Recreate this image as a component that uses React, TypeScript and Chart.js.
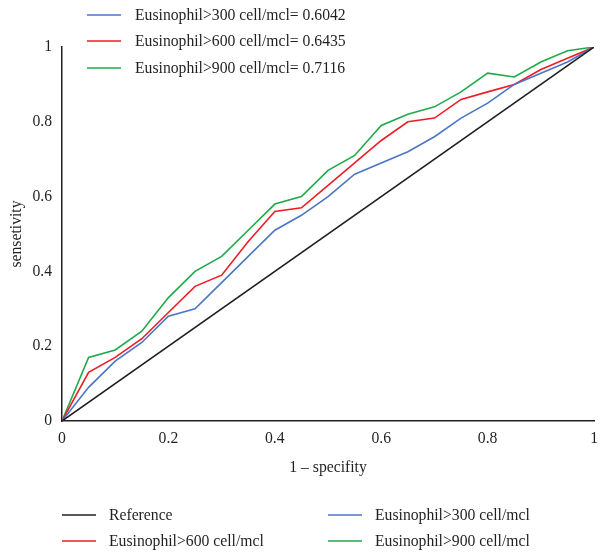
import React, { useEffect, useRef } from "react";
import { Chart, registerables } from "chart.js";

Chart.register(...registerables);

const fpr = [0, 0.05, 0.1, 0.15, 0.2, 0.25, 0.3, 0.35, 0.4, 0.45, 0.5, 0.55, 0.6, 0.65, 0.7, 0.75, 0.8, 0.85, 0.9, 0.95, 1];
const tpr300 = [0, 0.09, 0.16, 0.21, 0.28, 0.3, 0.37, 0.44, 0.51, 0.55, 0.6, 0.66, 0.69, 0.72, 0.76, 0.81, 0.85, 0.9, 0.93, 0.96, 1];
const tpr600 = [0, 0.13, 0.17, 0.22, 0.29, 0.36, 0.39, 0.48, 0.56, 0.57, 0.63, 0.69, 0.75, 0.8, 0.81, 0.86, 0.88, 0.9, 0.94, 0.97, 1];
const tpr900 = [0, 0.17, 0.19, 0.24, 0.33, 0.4, 0.44, 0.51, 0.58, 0.6, 0.67, 0.71, 0.79, 0.82, 0.84, 0.88, 0.93, 0.92, 0.96, 0.99, 1];
const refX = [0, 1];
const refY = [0, 1];

const seriesNames = ["Reference", "Eusinophil>300 cell/mcl", "Eusinophil>600 cell/mcl", "Eusinophil>900 cell/mcl"];
const aucLabels = ["Eusinophil>300 cell/mcl= 0.6042", "Eusinophil>600 cell/mcl= 0.6435", "Eusinophil>900 cell/mcl= 0.7116"];
const xTitle = "1 \u2013 specifity";
const yTitle = "sensetivity";

const COLORS = {
  ref: "#231f20",
  blue: "#4a76c4",
  red: "#ee1c25",
  green: "#1faa4a",
};

const FONT = "'Liberation Serif', 'DejaVu Serif', serif";
const FS = 15.7;

const toPts = (xs: number[], ys: number[]) => xs.map((x, i) => ({ x, y: ys[i] }));

export default function App() {
  const ref = useRef<HTMLCanvasElement | null>(null);

  useEffect(() => {
    if (!ref.current) return;
    const legendPlugin = {
      id: "customLegends",
      afterDraw(chart: any) {
        const ctx = chart.ctx as CanvasRenderingContext2D;
        ctx.save();
        ctx.font = `${FS}px ${FONT}`;
        ctx.textBaseline = "middle";
        ctx.fillStyle = "#231f20";
        ctx.lineWidth = 1.5;
        // top legend
        const topColors = [COLORS.blue, COLORS.red, COLORS.green];
        const topY = [15, 41, 68];
        aucLabels.forEach((t, i) => {
          ctx.strokeStyle = topColors[i];
          ctx.beginPath();
          ctx.moveTo(87, topY[i]);
          ctx.lineTo(121, topY[i]);
          ctx.stroke();
          ctx.fillText(t, 135, topY[i] + 1);
        });
        // bottom legend
        const bottom = [
          { c: COLORS.ref, x: 62, y: 515, t: seriesNames[0] },
          { c: COLORS.blue, x: 328, y: 515, t: seriesNames[1] },
          { c: COLORS.red, x: 62, y: 541, t: seriesNames[2] },
          { c: COLORS.green, x: 328, y: 541, t: seriesNames[3] },
        ];
        bottom.forEach((b) => {
          ctx.strokeStyle = b.c;
          ctx.beginPath();
          ctx.moveTo(b.x, b.y);
          ctx.lineTo(b.x + 34, b.y);
          ctx.stroke();
          ctx.fillText(b.t, b.x + 47, b.y + 1);
        });
        ctx.restore();
      },
    };

    const chart = new Chart(ref.current, {
      type: "line",
      data: {
        datasets: [
          { label: seriesNames[0], data: toPts(refX, refY), borderColor: COLORS.ref, borderWidth: 1.6, pointRadius: 0, tension: 0 },
          { label: seriesNames[1], data: toPts(fpr, tpr300), borderColor: COLORS.blue, borderWidth: 1.6, pointRadius: 0, tension: 0 },
          { label: seriesNames[2], data: toPts(fpr, tpr600), borderColor: COLORS.red, borderWidth: 1.6, pointRadius: 0, tension: 0 },
          { label: seriesNames[3], data: toPts(fpr, tpr900), borderColor: COLORS.green, borderWidth: 1.6, pointRadius: 0, tension: 0 },
        ],
      },
      options: {
        animation: false,
        responsive: false,
        maintainAspectRatio: false,
        layout: { padding: { left: 0, right: 9, top: 47, bottom: 75 } },
        plugins: { legend: { display: false }, tooltip: { enabled: false } },
        scales: {
          x: {
            type: "linear",
            min: 0,
            max: 1,
            grid: { display: false, drawTicks: false },
            border: { display: true, color: "#231f20", width: 1.5 },
            ticks: {
              stepSize: 0.2,
              color: "#231f20",
              font: { family: FONT, size: FS },
              padding: 8,
              maxRotation: 0,
              callback: (v: any) => String(Math.round(Number(v) * 10) / 10),
            },
            title: { display: true, text: xTitle, color: "#231f20", font: { family: FONT, size: FS }, padding: { top: 6, bottom: 0 } },
            afterFit: (s: any) => { s.height = 56; },
          },
          y: {
            type: "linear",
            min: 0,
            max: 1,
            grid: { display: false, drawTicks: false },
            border: { display: true, color: "#231f20", width: 1.5 },
            ticks: {
              stepSize: 0.2,
              color: "#231f20",
              font: { family: FONT, size: FS },
              padding: 10,
              callback: (v: any) => String(Math.round(Number(v) * 10) / 10),
            },
            title: { display: true, text: yTitle, color: "#231f20", font: { family: FONT, size: FS }, padding: { top: 7, bottom: 0 } },
            afterFit: (s: any) => { s.width = 62; },
          },
        },
      },
      plugins: [legendPlugin],
    });
    return () => chart.destroy();
  }, []);

  return (
    <div style={{ position: "fixed", left: 0, top: 0, width: 606, height: 552, background: "#fff" }}>
      <canvas ref={ref} width={606} height={552} style={{ width: 606, height: 552, display: "block" }} />
    </div>
  );
}
